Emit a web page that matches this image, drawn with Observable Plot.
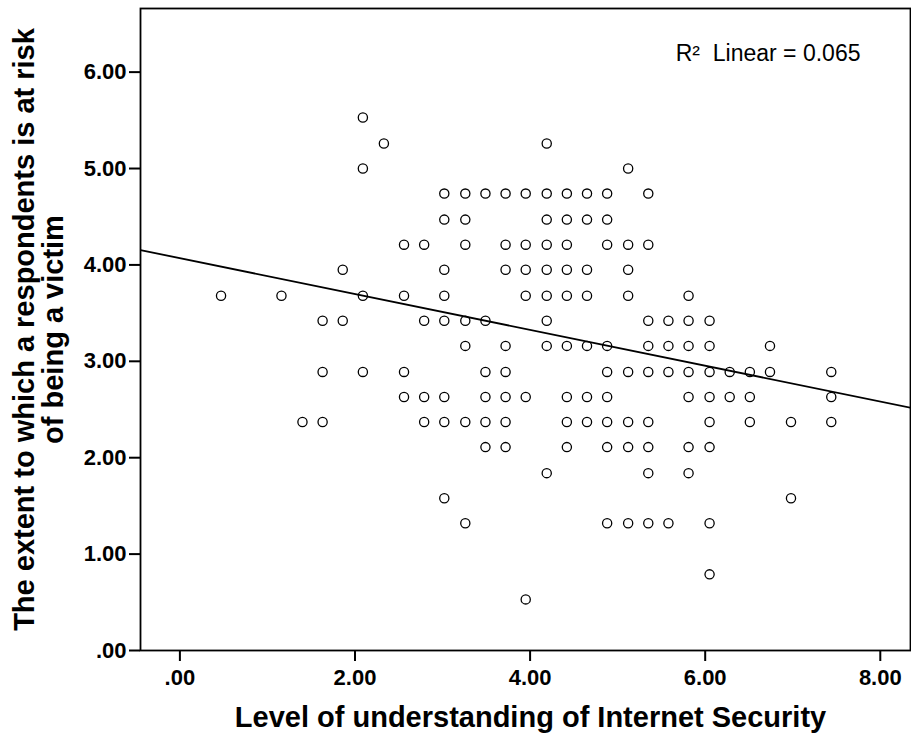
<!DOCTYPE html>
<html><head><meta charset="utf-8">
<script src="https://cdn.jsdelivr.net/npm/d3@7"></script>
<script src="https://cdn.jsdelivr.net/npm/@observablehq/plot@0.6"></script>
<style>
html,body{margin:0;padding:0;background:#fff;}
</style></head><body><div id="chart"></div>
<script>
// Risk score levels (y) and the understanding scores (x) observed at each level
const riskLevels = [5.53, 5.26, 5.00, 4.74, 4.47, 4.21, 3.95, 3.68, 3.42, 3.16, 2.89, 2.63, 2.37, 2.11, 1.84, 1.58, 1.32, 0.79, 0.53];
const understandingByLevel = [
  [2.09],
  [2.33, 4.19],
  [2.09, 5.12],
  [3.02, 3.26, 3.49, 3.72, 3.95, 4.19, 4.42, 4.65, 4.88, 5.35],
  [3.02, 3.26, 4.19, 4.42, 4.65, 4.88],
  [2.56, 2.79, 3.26, 3.72, 3.95, 4.19, 4.42, 4.88, 5.12, 5.35],
  [1.86, 3.02, 3.72, 3.95, 4.19, 4.42, 4.65, 5.12],
  [0.47, 1.16, 2.09, 2.56, 3.02, 3.95, 4.19, 4.42, 4.65, 5.12, 5.81],
  [1.63, 1.86, 2.79, 3.02, 3.26, 3.49, 4.19, 5.35, 5.58, 5.81, 6.05],
  [3.26, 3.72, 4.19, 4.42, 4.65, 4.88, 5.35, 5.58, 5.81, 6.05, 6.74],
  [1.63, 2.09, 2.56, 3.49, 3.72, 4.88, 5.12, 5.35, 5.58, 5.81, 6.05, 6.28, 6.51, 6.74, 7.44],
  [2.56, 2.79, 3.02, 3.49, 3.72, 3.95, 4.42, 4.65, 4.88, 5.81, 6.05, 6.28, 6.51, 7.44],
  [1.40, 1.63, 2.79, 3.02, 3.26, 3.49, 3.72, 4.42, 4.65, 4.88, 5.12, 5.35, 6.05, 6.51, 6.98, 7.44],
  [3.49, 3.72, 4.42, 4.88, 5.12, 5.35, 5.81, 6.05],
  [4.19, 5.35, 5.81],
  [3.02, 6.98],
  [3.26, 4.88, 5.12, 5.35, 5.58, 6.05],
  [6.05],
  [3.95]
];
const xTicks = [0, 2, 4, 6, 8];
const yTicks = [0, 1, 2, 3, 4, 5, 6];
const xTitle = "Level of understanding of Internet Security";
const yTitle = "The extent to which a respondents is at risk\nof being a victim";
const fitIntercept = 4.07;
const fitSlope = -0.186;
const fitLabel = "R²\u00a0 Linear = 0.065";

const points = riskLevels.flatMap((y, i) => understandingByLevel[i].map(x => ({x, y})));
const xDomain = [-0.45, 8.345];
const yDomain = [0, 6.66];
const fitLine = xDomain.map(x => ({x, y: fitIntercept + fitSlope * x}));
const fmt = d => d === 0 ? ".00" : d.toFixed(2);

const chart = Plot.plot({
  width: 911, height: 737,
  marginLeft: 140, marginRight: 1, marginTop: 8, marginBottom: 87,
  style: {fontFamily: "'Liberation Sans', Arial, sans-serif", background: "#fff", color: "#000"},
  x: {domain: xDomain},
  y: {domain: yDomain},
  marks: [
    Plot.frame({stroke: "#000", strokeWidth: 1.8}),
    Plot.axisX(xTicks, {tickFormat: fmt, tickSize: 11, tickPadding: 8, fontSize: 22, fontWeight: "bold", label: null, strokeWidth: 2}),
    Plot.axisY(yTicks, {tickFormat: fmt, tickSize: 11, tickPadding: 3, fontSize: 22, fontWeight: "bold", label: null, strokeWidth: 2}),
    Plot.dot(points, {x: "x", y: "y", r: 4.6, stroke: "#000", strokeWidth: 1.3, fill: "none"}),
    Plot.line(fitLine, {x: "x", y: "y", stroke: "#000", strokeWidth: 1.8, clip: true}),
    Plot.text([fitLabel], {text: d => d, frameAnchor: "top-right", textAnchor: "end", dx: -50, dy: 36, fontSize: 23}),
    Plot.text([xTitle], {text: d => d, frameAnchor: "bottom", dx: 5, dy: 76, fontSize: 29, fontWeight: "bold"}),
    Plot.text([yTitle], {text: d => d, frameAnchor: "left", textAnchor: "middle", rotate: -90, dx: -101, fontSize: 29, fontWeight: "bold", lineHeight: 1.0})
  ]
});
document.getElementById("chart").appendChild(chart);
</script>
</body></html>
